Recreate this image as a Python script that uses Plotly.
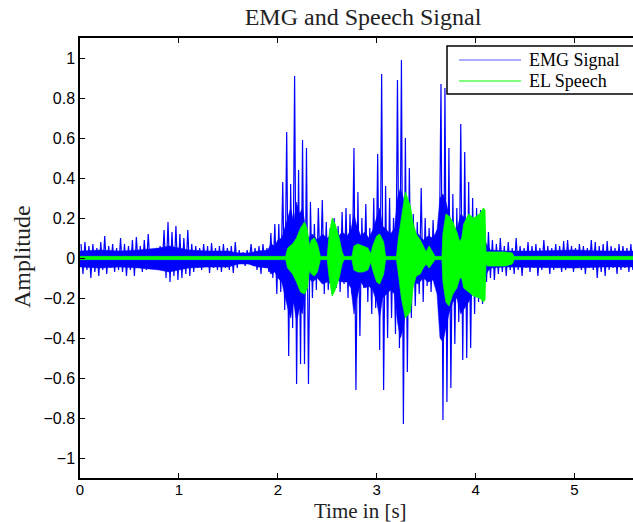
import numpy as np
import plotly.graph_objects as go

# ---------------- data ----------------
# EMG: per 0.04 s bin, the upper and lower extreme of the signal
emg_bin_width = 0.04
emg_hi = [
    0.07, 0.08, 0.06, 0.07, 0.05, 0.08, 0.11, 0.06, 0.07, 0.05,
    0.10, 0.07, 0.06, 0.09, 0.105, 0.06, 0.09, 0.12, 0.04, 0.05,
    0.06, 0.14, 0.18, 0.13, 0.16, 0.12, 0.10, 0.14, 0.07, 0.06,
    0.05, 0.07, 0.06, 0.075, 0.05, 0.06, 0.07, 0.05, 0.06, 0.08,
    0.04, 0.03, 0.04, 0.07, 0.05, 0.06, 0.07, 0.05, 0.125, 0.17,
    0.17, 0.38, 0.63, 0.37, 0.91, 0.44, 0.59, 0.55, 0.28, 0.17,
    0.25, 0.29, 0.18, 0.15, 0.20, 0.16, 0.23, 0.25, 0.22, 0.55,
    0.33, 0.20, 0.27, 0.15, 0.30, 0.52, 0.92, 0.36, 0.30, 0.20,
    0.89, 0.99, 0.60, 0.45, 0.22, 0.18, 0.35, 0.20, 0.15, 0.19,
    0.14, 0.87, 0.85, 0.55, 0.32, 0.25, 0.67, 0.53, 0.38, 0.30,
    0.25, 0.24, 0.15, 0.13, 0.09, 0.07, 0.10, 0.06, 0.08, 0.05,
    0.10, 0.06, 0.05, 0.08, 0.06, 0.07, 0.05, 0.09, 0.06, 0.05,
    0.07, 0.06, 0.085, 0.09, 0.06, 0.05, 0.07, 0.06, 0.05, 0.09,
    0.08, 0.06, 0.07, 0.085, 0.06, 0.05, 0.07, 0.06, 0.05, 0.07,
]
emg_lo = [
    -0.08, -0.06, -0.10, -0.07, -0.09, -0.06, -0.08, -0.05, -0.07, -0.06,
    -0.07, -0.09, -0.06, -0.09, -0.05, -0.07, -0.06, -0.05, -0.04, -0.05,
    -0.06, -0.10, -0.12, -0.09, -0.11, -0.10, -0.08, -0.09, -0.07, -0.05,
    -0.06, -0.04, -0.075, -0.05, -0.06, -0.07, -0.05, -0.06, -0.075, -0.05,
    -0.03, -0.04, -0.02, -0.04, -0.06, -0.08, -0.05, -0.07, -0.10, -0.18,
    -0.17, -0.26, -0.49, -0.35, -0.63, -0.53, -0.53, -0.63, -0.20, -0.16,
    -0.10, -0.18, -0.16, -0.18, -0.15, -0.17, -0.13, -0.20, -0.18, -0.66,
    -0.39, -0.15, -0.22, -0.28, -0.25, -0.46, -0.66, -0.40, -0.30, -0.38,
    -0.45, -0.83, -0.57, -0.30, -0.24, -0.18, -0.22, -0.14, -0.17, -0.10,
    -0.15, -0.81, -0.72, -0.65, -0.43, -0.32, -0.51, -0.50, -0.45, -0.28,
    -0.22, -0.23, -0.12, -0.10, -0.11, -0.08, -0.07, -0.09, -0.06, -0.08,
    -0.06, -0.09, -0.05, -0.07, -0.05, -0.09, -0.06, -0.05, -0.08, -0.06,
    -0.05, -0.07, -0.06, -0.05, -0.07, -0.04, -0.06, -0.08, -0.05, -0.06,
    -0.10, -0.07, -0.09, -0.06, -0.05, -0.08, -0.06, -0.05, -0.07, -0.06,
]

# EMG: the solid (densely drawn) core of the signal, as envelope knots
emg_core_t = [0.0, 0.2, 0.4, 0.6, 0.8, 0.9, 1.0, 1.1, 1.3, 1.5, 1.6, 1.7, 1.8,
              1.90, 1.93, 1.97, 2.00, 2.04, 2.07, 2.10, 2.13, 2.16, 2.19,
              2.22, 2.25, 2.28, 2.31, 2.35, 2.40, 2.45, 2.50, 2.55, 2.60,
              2.65, 2.70, 2.74, 2.77, 2.80, 2.84, 2.88, 2.92, 2.96, 3.00,
              3.03, 3.06, 3.10, 3.14, 3.18, 3.21, 3.24, 3.27, 3.30, 3.33,
              3.37, 3.42, 3.47, 3.52, 3.57, 3.61, 3.64, 3.67, 3.70, 3.73,
              3.77, 3.81, 3.85, 3.89, 3.93, 3.97, 4.01, 4.05, 4.09, 4.12,
              4.15, 4.3, 4.6, 5.0, 5.3, 5.6]
emg_core_hi = [0.035, 0.04, 0.035, 0.04, 0.05, 0.06, 0.05, 0.04, 0.035, 0.035, 0.025, 0.025, 0.035,
               0.04, 0.07, 0.06, 0.09, 0.10, 0.15, 0.20, 0.25, 0.18, 0.28,
               0.22, 0.25, 0.15, 0.10, 0.12, 0.09, 0.12, 0.10, 0.12, 0.10,
               0.13, 0.11, 0.14, 0.22, 0.16, 0.11, 0.13, 0.10, 0.14, 0.20,
               0.25, 0.16, 0.14, 0.12, 0.15, 0.30, 0.35, 0.30, 0.20, 0.12,
               0.10, 0.12, 0.09, 0.11, 0.10, 0.14, 0.30, 0.32, 0.28, 0.22,
               0.16, 0.14, 0.22, 0.20, 0.18, 0.16, 0.14, 0.12, 0.09, 0.06,
               0.04, 0.035, 0.035, 0.04, 0.035, 0.035]
emg_core_lo = [-0.045, -0.05, -0.045, -0.05, -0.06, -0.07, -0.06, -0.05, -0.045, -0.045, -0.03, -0.03, -0.045,
               -0.05, -0.08, -0.07, -0.10, -0.12, -0.18, -0.25, -0.30, -0.22, -0.32,
               -0.25, -0.28, -0.15, -0.10, -0.12, -0.10, -0.13, -0.12, -0.13, -0.11,
               -0.12, -0.12, -0.15, -0.28, -0.20, -0.12, -0.15, -0.14, -0.16, -0.22,
               -0.30, -0.20, -0.18, -0.16, -0.18, -0.32, -0.40, -0.35, -0.22, -0.14,
               -0.12, -0.13, -0.10, -0.12, -0.11, -0.18, -0.40, -0.42, -0.35, -0.28,
               -0.22, -0.20, -0.28, -0.25, -0.22, -0.18, -0.15, -0.13, -0.10, -0.07,
               -0.05, -0.045, -0.045, -0.05, -0.045, -0.045]

# EL speech: envelope knots (time, upper, lower)
speech_t = [0.0, 2.08, 2.10, 2.15, 2.19, 2.23, 2.27, 2.30, 2.32, 2.34, 2.37, 2.40, 2.43,
            2.50, 2.52, 2.55, 2.58, 2.62, 2.65, 2.67, 2.75, 2.77, 2.81, 2.86, 2.91, 2.94,
            2.96, 3.00, 3.03, 3.07, 3.09, 3.20, 3.22, 3.25, 3.29, 3.34, 3.37, 3.40, 3.44,
            3.47, 3.50, 3.53, 3.56, 3.59, 3.66, 3.67, 3.70, 3.73, 3.77, 3.81, 3.84, 3.86,
            3.88, 3.93, 3.98, 4.04, 4.08, 4.095, 4.105, 4.12, 4.30, 4.37, 4.39, 5.6]
speech_hi = [0.008, 0.008, 0.05, 0.07, 0.10, 0.15, 0.18, 0.14, 0.06, 0.09, 0.10, 0.07, 0.008,
             0.008, 0.12, 0.20, 0.17, 0.10, 0.03, 0.008, 0.008, 0.06, 0.07, 0.06, 0.05, 0.02,
             0.06, 0.11, 0.12, 0.08, 0.008, 0.008, 0.10, 0.20, 0.33, 0.26, 0.17, 0.12, 0.09,
             0.06, 0.03, 0.06, 0.03, 0.008, 0.008, 0.12, 0.22, 0.21, 0.18, 0.13, 0.08, 0.10,
             0.17, 0.22, 0.20, 0.22, 0.25, 0.24, 0.03, 0.03, 0.03, 0.025, 0.008, 0.008]
speech_lo = [-0.008, -0.008, -0.05, -0.08, -0.12, -0.17, -0.18, -0.15, -0.06, -0.08, -0.09, -0.07, -0.008,
             -0.008, -0.10, -0.19, -0.16, -0.10, -0.03, -0.008, -0.008, -0.06, -0.07, -0.07, -0.06, -0.02,
             -0.06, -0.12, -0.13, -0.08, -0.008, -0.008, -0.08, -0.20, -0.30, -0.27, -0.14, -0.09, -0.08,
             -0.05, -0.03, -0.05, -0.03, -0.008, -0.008, -0.12, -0.22, -0.24, -0.18, -0.15, -0.10, -0.10,
             -0.15, -0.17, -0.19, -0.20, -0.22, -0.21, -0.03, -0.04, -0.04, -0.03, -0.008, -0.008]

y_tick_vals = [-1, -0.8, -0.6, -0.4, -0.2, 0, 0.2, 0.4, 0.6, 0.8, 1]
y_tick_text = ["\u22121", "\u22120.8", "\u22120.6", "\u22120.4", "\u22120.2", "0",
               "0.2", "0.4", "0.6", "0.8", "1"]
x_tick_vals = [0, 1, 2, 3, 4, 5]
x_tick_text = ["0", "1", "2", "3", "4", "5"]

# ---------------- build traces ----------------
n = len(emg_hi)
starts = np.arange(n) * emg_bin_width
emg_x = np.empty(2 * n)
emg_y = np.empty(2 * n)
emg_x[0::2] = starts + emg_bin_width * 0.25
emg_x[1::2] = starts + emg_bin_width * 0.75
emg_y[0::2] = emg_hi
emg_y[1::2] = emg_lo

BLUE = "#0000ff"
GREEN = "#00ff00"

fig = go.Figure()
fig.add_trace(go.Scatter(x=list(emg_core_t) + list(emg_core_t[::-1]),
                         y=list(emg_core_hi) + list(emg_core_lo[::-1]),
                         mode="lines", fill="toself", fillcolor=BLUE,
                         line=dict(color=BLUE, width=0.5), showlegend=False,
                         hoverinfo="skip"))
fig.add_trace(go.Scatter(x=emg_x, y=emg_y, mode="lines",
                         line=dict(color=BLUE, width=1.2), showlegend=False,
                         name="EMG Signal"))
fig.add_trace(go.Scatter(x=list(speech_t) + list(speech_t[::-1]),
                         y=list(speech_hi) + list(speech_lo[::-1]),
                         mode="lines", fill="toself", fillcolor=GREEN,
                         line=dict(color=GREEN, width=0.8), showlegend=False,
                         name="EL Speech"))

# plot area geometry (pixels)
W, H = 633, 522
L, R, T, B = 80, 633, 38, 478

def px(xp):
    return (xp - L) / (R - L)

def py(yp):
    return (B - yp) / (B - T)

serif = "Liberation Serif, Times New Roman, serif"
sans = "Liberation Sans, Arial, Helvetica, sans-serif"

shapes = [
    dict(type="rect", xref="paper", yref="paper", x0=px(447), x1=px(645), y0=py(94), y1=py(46),
         line=dict(color="black", width=1.5), fillcolor="white", layer="above"),
    dict(type="line", xref="paper", yref="paper", x0=px(459), x1=px(521), y0=py(60), y1=py(60),
         line=dict(color="#5a5aff", width=1), layer="above"),
    dict(type="line", xref="paper", yref="paper", x0=px(459), x1=px(521), y0=py(81), y1=py(81),
         line=dict(color=GREEN, width=1), layer="above"),
]
annotations = [
    dict(text="EMG Signal", xref="paper", yref="paper", x=px(527), y=py(60), xanchor="left",
         yanchor="middle", showarrow=False, font=dict(family=serif, size=18, color="black")),
    dict(text="EL Speech", xref="paper", yref="paper", x=px(527), y=py(81), xanchor="left",
         yanchor="middle", showarrow=False, font=dict(family=serif, size=18, color="black")),
    dict(text="Time in [s]", xref="paper", yref="paper", x=px(360), y=py(511), xanchor="center",
         yanchor="middle", showarrow=False, font=dict(family=serif, size=21, color="#222")),
    dict(text="Amplitude", xref="paper", yref="paper", x=px(22), y=py(257), xanchor="center",
         yanchor="middle", showarrow=False, textangle=-90,
         font=dict(family=serif, size=24, color="#222")),
]

fig.update_layout(
    width=W, height=H,
    margin=dict(l=L, r=W - R, t=T, b=H - B, pad=0),
    paper_bgcolor="white", plot_bgcolor="white",
    title=dict(text="EMG and Speech Signal", x=363 / W, xanchor="center",
               y=1 - 17 / H, yanchor="middle", yref="container",
               font=dict(family=serif, size=24, color="#222")),
    showlegend=False,
    shapes=shapes,
    annotations=annotations,
    xaxis=dict(range=[0, (R - L) / 98.9], showgrid=False, zeroline=False,
               showline=True, linecolor="black", linewidth=1.5, mirror="ticks",
               ticks="inside", ticklen=5, tickcolor="black", tickwidth=1,
               tickvals=x_tick_vals, ticktext=x_tick_text, ticklabelstandoff=-3,
               tickfont=dict(family=sans, size=15, color="black")),
    yaxis=dict(range=[-1.1, 1.1], showgrid=False, zeroline=False,
               showline=True, linecolor="black", linewidth=1.5, mirror=False,
               ticks="inside", ticklen=5, tickcolor="black", tickwidth=1,
               tickvals=y_tick_vals, ticktext=y_tick_text,
               tickfont=dict(family=sans, size=16, color="black")),
)

fig.write_html("out.html")
